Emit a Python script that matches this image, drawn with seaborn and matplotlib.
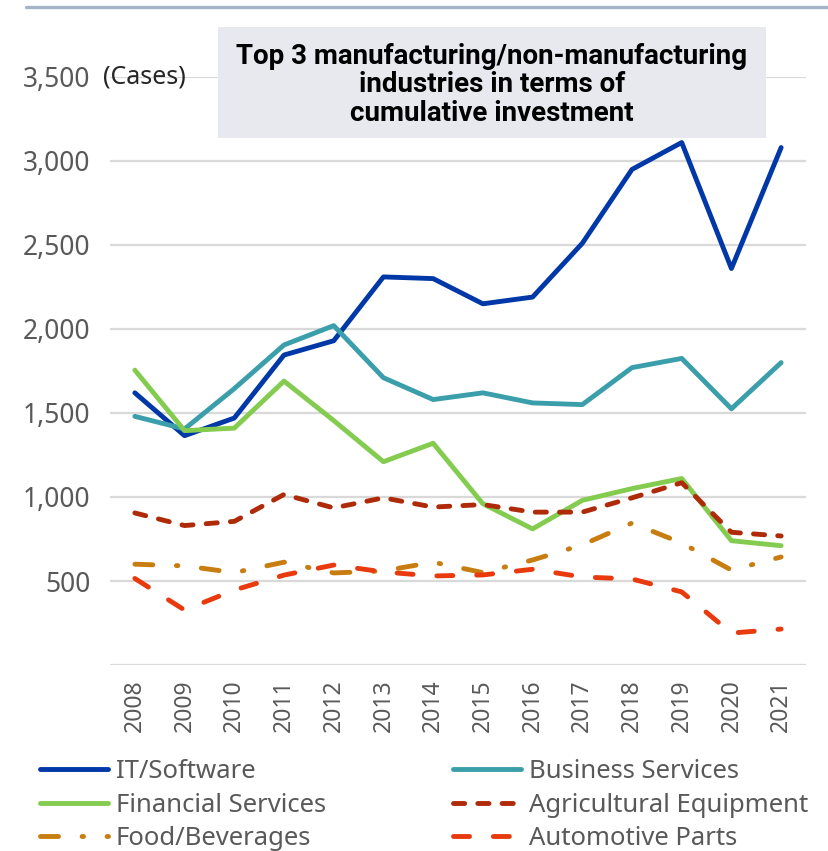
import matplotlib
matplotlib.use("Agg")
import matplotlib.pyplot as plt
from matplotlib.lines import Line2D
from matplotlib.patches import Rectangle
import seaborn as sns
import pandas as pd

years = ["2008", "2009", "2010", "2011", "2012", "2013", "2014",
         "2015", "2016", "2017", "2018", "2019", "2020", "2021"]

it_software = [1620, 1365, 1470, 1845, 1930, 2310, 2300, 2150, 2190, 2510, 2950, 3110, 2360, 3080]
business_services = [1480, 1405, 1645, 1905, 2020, 1710, 1580, 1620, 1560, 1550, 1770, 1825, 1525, 1800]
financial_services = [1755, 1395, 1410, 1690, 1455, 1210, 1320, 960, 810, 980, 1050, 1110, 740, 710]
agricultural_equipment = [905, 830, 855, 1015, 935, 995, 940, 955, 910, 910, 995, 1085, 790, 768]
food_beverages = [600, 590, 550, 612, 548, 560, 612, 550, 625, 715, 845, 726, 565, 643]
automotive_parts = [515, 327, 446, 535, 595, 554, 530, 536, 570, 524, 512, 435, 190, 214]

y_ticks = [0, 500, 1000, 1500, 2000, 2500, 3000, 3500]
y_tick_labels = ["", "500", "1,000", "1,500", "2,000", "2,500", "3,000", "3,500"]

series = [
    ("IT/Software", it_software, "#0038A8", "-"),
    ("Business Services", business_services, "#3A9FAA", "-"),
    ("Financial Services", financial_services, "#84CC50", "-"),
    ("Agricultural Equipment", agricultural_equipment, "#AE2A08", (0, (2.3, 2.7))),
    ("Food/Beverages", food_beverages, "#C87D10", (0, (3.7, 4.85, 0.3, 4.85))),
    ("Automotive Parts", automotive_parts, "#E83A0C", (0, (3.3, 4.9))),
]

sns.set_style("white")
plt.rcParams["font.family"] = ["Noto Sans", "DejaVu Sans"]

W, H = 829, 851
fig = plt.figure(figsize=(W / 100, H / 100), dpi=100)
ax = fig.add_axes([110 / W, 1 - 665 / H, (806 - 110) / W, (665 - 77) / H])

x_pos = list(range(len(years)))
handles = {}
for name, vals, color, ls in series:
    df = pd.DataFrame({"pos": x_pos, "value": vals})
    sns.lineplot(data=df, x="pos", y="value", ax=ax, color=color, linewidth=3.5,
                 linestyle=ls, solid_capstyle="round", dash_capstyle="round",
                 solid_joinstyle="round", dash_joinstyle="round", legend=False)
    handles[name] = Line2D([0], [0], color=color, linewidth=3.5, linestyle=ls,
                           solid_capstyle="round", dash_capstyle="round")

ax.set_xlim(-0.5, len(years) - 0.5)
ax.set_ylim(0, 3500)
ax.set_xticks(x_pos)
ax.set_xticklabels(years, rotation=90, fontsize=16.5, color="#595959")
ax.set_yticks(y_ticks)
ax.set_yticklabels(y_tick_labels, fontsize=19, color="#595959")
ax.tick_params(axis="both", length=0, pad=10)
ax.tick_params(axis="y", pad=14)
ax.set_xlabel("")
ax.set_ylabel("")
ax.yaxis.grid(True, color="#D9D9D9", linewidth=1.6)
ax.set_axisbelow(True)
for s in ax.spines.values():
    s.set_visible(False)

# unit label and title box
fig.text(103 / W, 1 - 77 / H, "(Cases)", fontsize=18, color="#262626",
         ha="left", va="center")
fig.add_artist(Rectangle((218 / W, 1 - 138 / H), (766 - 218) / W, (138 - 27) / H,
                         transform=fig.transFigure, facecolor="#E7E9EE",
                         edgecolor="none", zorder=5))
fig.text(492 / W, 1 - 85 / H,
         "Top 3 manufacturing/non-manufacturing\nindustries in terms of\ncumulative investment",
         family=["Roboto", "DejaVu Sans"], fontsize=20, fontweight="bold",
         color="#000000", ha="center", va="center", linespacing=1.08, zorder=6)

# separator line across the top
fig.add_artist(Line2D([26 / W, 1.0], [1 - 7 / H, 1 - 7 / H], transform=fig.transFigure,
                      color="#A7B3CB", linewidth=2.4))

# two-column legend below the chart
left_names = ["IT/Software", "Financial Services", "Food/Beverages"]
right_names = ["Business Services", "Agricultural Equipment", "Automotive Parts"]
leg_kw = dict(frameon=False, fontsize=18.5, handlelength=2.65, handletextpad=0.3,
              labelspacing=0.34, borderpad=0, borderaxespad=0, loc="upper left",
              labelcolor="#595959")
leg1 = fig.legend([handles[n] for n in left_names], left_names,
                  bbox_to_anchor=(40 / W, 1 - 759 / H), **leg_kw)
leg2 = fig.legend([handles[n] for n in right_names], right_names,
                  bbox_to_anchor=(453 / W, 1 - 759 / H), **leg_kw)

fig.savefig("out.png", dpi=100)
